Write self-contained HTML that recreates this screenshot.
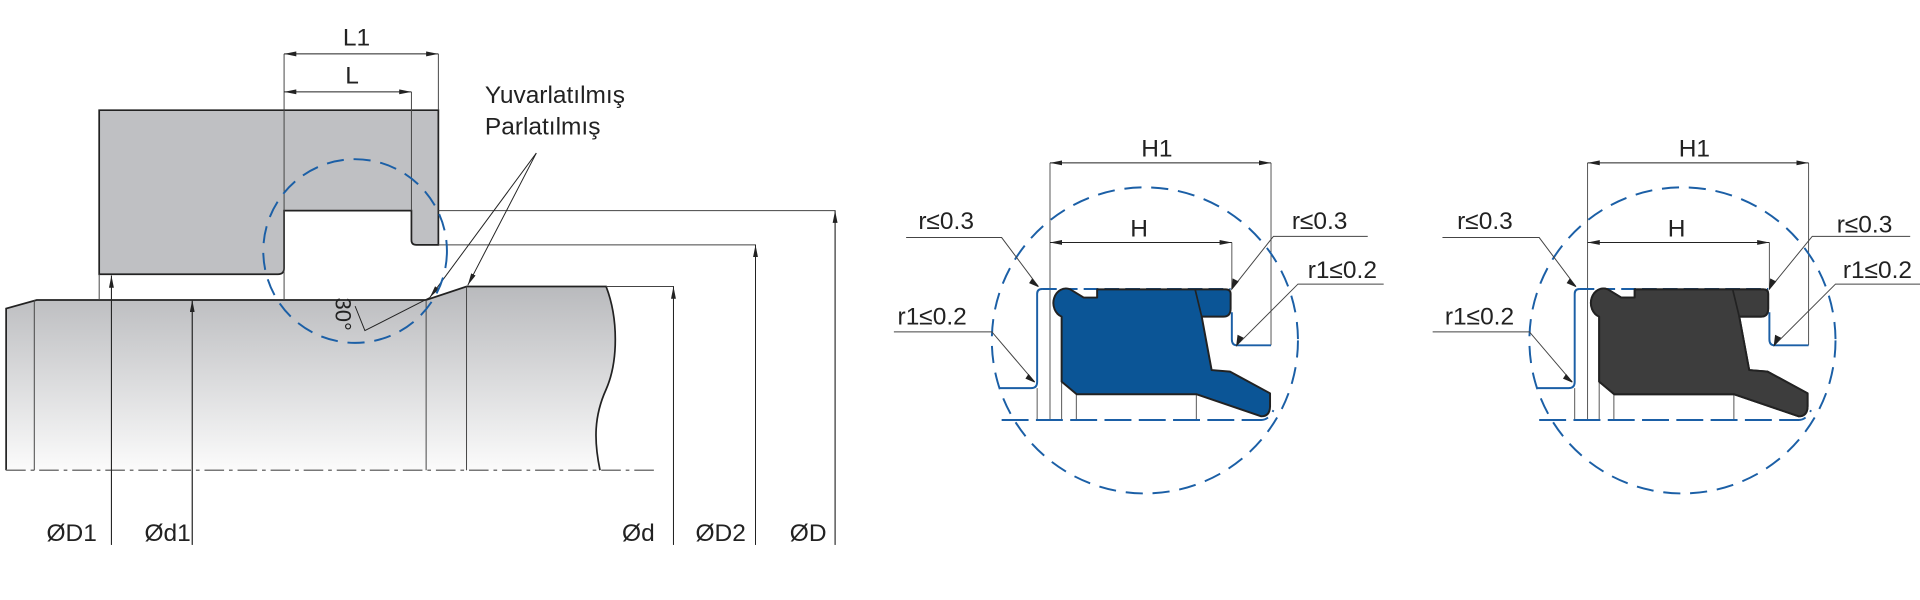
<!DOCTYPE html>
<html><head><meta charset="utf-8"><style>html,body{margin:0;padding:0;background:#fff}svg{display:block}</style></head>
<body>
<svg width="1920" height="600" viewBox="0 0 1568 490" xmlns="http://www.w3.org/2000/svg" font-family="Liberation Sans, sans-serif" fill="none">
<defs>
<linearGradient id="sg" x1="0" y1="0" x2="0" y2="1"><stop offset="0" stop-color="#b9babd"/><stop offset="1" stop-color="#fbfbfb"/></linearGradient>
<marker id="ar" viewBox="0 0 10 4" refX="10" refY="2" markerWidth="10" markerHeight="4" orient="auto-start-reverse" markerUnits="userSpaceOnUse"><path d="M0,0 L10,2 L0,4z" fill="#222"/></marker>
</defs>
<!-- shaft -->
<path d="M5,252 L30,245 L348,245 L381,234 L495,234 C505,260 505,295 495,318 C485,340 485,360 490,384 L5,384 Z" fill="url(#sg)" stroke="none"/>
<path d="M5,384 L5,252 L30,245 L348,245 L381,234 L495,234 C505,260 505,295 495,318 C485,340 485,360 490,384" stroke="#222" stroke-width="1.4"/>
<path d="M5,384 H535" stroke="#777" stroke-width="1.2" stroke-dasharray="16,4,3,4"/>
<g stroke="#444" stroke-width="0.8">
<path d="M28,245V384M348,245V384M381,234V384"/>
</g>
<!-- housing -->
<path d="M81,90 H358 V200 H340 Q336,200 336,196 V172 H232 V219 Q232,224 227,224 H81 Z" fill="#bfc0c3" stroke="#222" stroke-width="1.4"/>
<g stroke="#444" stroke-width="0.8">
<path d="M232,44V245M358,44V90M336,75V172M81,224V245"/>
<path d="M358,172H682V445M358,200H617V445M495,234H550V445"/>
<path d="M91,225V445M157,245V445"/>
</g>
<g stroke="#222" stroke-width="0.8">
<path d="M232,44H358" marker-start="url(#ar)" marker-end="url(#ar)"/>
<path d="M232,75H336" marker-start="url(#ar)" marker-end="url(#ar)"/>
<path d="M682,445V172" marker-end="url(#ar)"/>
<path d="M617,445V200" marker-end="url(#ar)"/>
<path d="M550,445V234" marker-end="url(#ar)"/>
<path d="M91,445V225" marker-end="url(#ar)"/>
<path d="M157,445V245" marker-end="url(#ar)"/>
<path d="M438,125L351,243" marker-end="url(#ar)"/>
<path d="M438,125L382,233" marker-end="url(#ar)"/>
<path d="M351,243L298,270L290,250"/>
</g>
<circle cx="290" cy="205" r="75" stroke="#1b5fa6" stroke-width="1.6" stroke-dasharray="14,8"/>
<text x="274" y="243" font-size="18" fill="#222" transform="rotate(90 274 243)">30°</text>
<g fill="#222" font-size="20">
<text x="280" y="37">L1</text>
<text x="282" y="68">L</text>
<text x="396" y="84">Yuvarlatılmış</text>
<text x="396" y="110">Parlatılmış</text>
<text x="38" y="442">ØD1</text>
<text x="118" y="442">Ød1</text>
<text x="508" y="442">Ød</text>
<text x="568" y="442">ØD2</text>
<text x="645" y="442">ØD</text>
</g>

<!-- seal groups -->
<g id="s1">
<g stroke="#555" stroke-width="0.8">
<path d="M857.5,133V343M1038,133V282M1006,198V236M847,317V343M867,312V343M879,322V343M977,322V343"/>
</g>
<g stroke="#222" stroke-width="0.8">
<path d="M857.5,133H1038" marker-start="url(#ar)" marker-end="url(#ar)"/>
<path d="M857.5,198H1006" marker-start="url(#ar)" marker-end="url(#ar)"/>
</g>
<g stroke="#1b5fa6" stroke-width="1.6">
<path d="M816,317H842Q847,317 847,312V240Q847,236 851,236"/>
<path d="M851,236H1005" stroke-dasharray="12,5"/>
<path d="M1006,255V277Q1006,282 1010,282H1038"/>
<path d="M818,343H1030Q1036,343 1040,335" stroke-dasharray="22,6"/>
</g>
<circle cx="935" cy="278" r="125" stroke="#1b5fa6" stroke-width="1.6" stroke-dasharray="14,8"/>
<path class="seal" d="M874,236.3 L885,243 L896,243 L896,236.3 L1001,236.3 Q1005,236.3 1005,240 L1005,252 Q1005,258.6 999,258.6 L981.4,258.6 L989.5,302.2 L1004.5,303.5 L1037.2,321.2 L1037.2,332 Q1037,340 1030,340 L977.3,322 L879.3,322 L867,311.7 L867,258.6 A9.5,11 0 0 1 874,236.3 Z" stroke="#222" stroke-width="1.6" stroke-linejoin="round"/>
<path d="M976,236.3L981.4,258.6" stroke="#222" stroke-width="1.4"/>
</g>
<use href="#s1" transform="translate(439,0)"/>
<style>#s1 .seal{fill:#0b5596}</style>
<!-- override color of second seal -->
<path d="M1313,236.3 L1324,243 L1335,243 L1335,236.3 L1440,236.3 Q1444,236.3 1444,240 L1444,252 Q1444,258.6 1438,258.6 L1420.4,258.6 L1428.5,302.2 L1443.5,303.5 L1476.2,321.2 L1476.2,332 Q1476,340 1469,340 L1416.3,322 L1318.3,322 L1306,311.7 L1306,258.6 A9.5,11 0 0 1 1313,236.3 Z" fill="#3d3d3d" stroke="#222" stroke-width="1.6" stroke-linejoin="round"/>
<path d="M1415,236.3L1420.4,258.6" stroke="#222" stroke-width="1.4"/>

<!-- leaders -->
<g stroke="#444" stroke-width="0.8">
<path d="M740,194H818L848,234"/><path d="M730,271H810L845,312"/>
<path d="M1117,193H1040L1006,236"/><path d="M1130,232H1060L1010,282"/>
<path d="M1178,194H1257L1287,234"/><path d="M1170,271H1249L1284,312"/>
<path d="M1560,193H1480L1445,236"/><path d="M1568,232H1499L1449,282"/>
</g>
<g stroke="#222" stroke-width="0.8" fill="#222">
<path d="M843,228l5,6l-7,-3z"/><path d="M840,306l5,6l-7,-3z"/><path d="M1011,230l-5,6l1,-8z"/><path d="M1015,276l-5,6l1,-8z"/>
<path d="M1282,228l5,6l-7,-3z"/><path d="M1279,306l5,6l-7,-3z"/><path d="M1450,230l-5,6l1,-8z"/><path d="M1454,276l-5,6l1,-8z"/>
</g>
<g fill="#222" font-size="20">
<text x="932" y="128">H1</text><text x="923" y="193">H</text>
<text x="1371" y="128">H1</text><text x="1362" y="193">H</text>
<text x="750" y="187">r≤0.3</text><text x="733" y="265">r1≤0.2</text>
<text x="1055" y="187">r≤0.3</text><text x="1068" y="227">r1≤0.2</text>
<text x="1190" y="187">r≤0.3</text><text x="1180" y="265">r1≤0.2</text>
<text x="1500" y="190">r≤0.3</text><text x="1505" y="227">r1≤0.2</text>
</g>
</svg>
</body></html>
